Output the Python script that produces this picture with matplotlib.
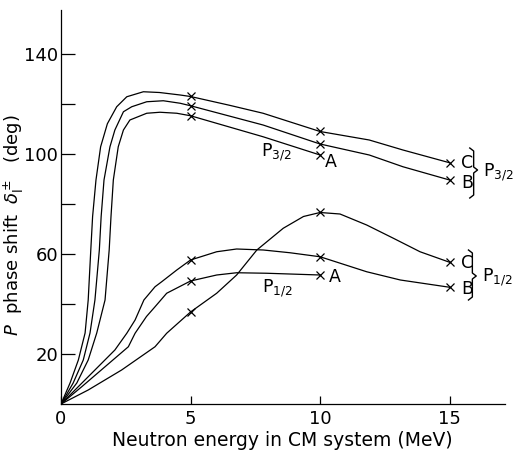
import numpy as np
import matplotlib
matplotlib.use("Agg")
import matplotlib.pyplot as plt

plt.rcParams['font.family'] = ['DejaVu Sans']
plt.rcParams['mathtext.fontset'] = 'dejavusans'

# ---- data (energy in MeV, phase shift in deg) ----
p32C_E = [0, 0.35, 0.67, 0.93, 1.05, 1.15, 1.22, 1.35, 1.53, 1.79, 2.15, 2.54, 3.18, 3.8, 4.6, 5, 6.5, 7.8, 10, 11.9, 13.2, 15]
p32C_V = [0, 8.4, 17.6, 28.4, 41.6, 61.6, 75, 89.6, 102.9, 112.1, 118.9, 122.9, 124.9, 124.6, 123.6, 123, 119.5, 116.3, 109, 105.6, 101.6, 96.5]

p32B_E = [0, 0.47, 0.86, 1.12, 1.31, 1.48, 1.55, 1.66, 1.89, 2.08, 2.41, 2.73, 3.31, 3.95, 4.6, 5, 7.8, 10, 11.9, 13.2, 15]
p32B_V = [0, 8.4, 17.6, 28.4, 41.6, 61.6, 75, 89.6, 102.9, 109.6, 116.9, 118.9, 120.9, 121.3, 120.3, 119.3, 111.6, 104, 99.6, 94.9, 89.6]

p32A_E = [0, 0.61, 1.05, 1.38, 1.70, 1.86, 1.93, 2.02, 2.21, 2.41, 2.66, 3.31, 3.82, 4.47, 5, 7.8, 10]
p32A_V = [0, 8.4, 17.6, 28.4, 41.6, 61.6, 75, 89.6, 102.9, 109.6, 113.6, 116.3, 116.7, 116.3, 115.3, 106.9, 99.6]

p12B_E = [0, 0.54, 1.31, 2.08, 2.54, 2.86, 3.2, 3.63, 3.9, 4.47, 5, 6.01, 6.78, 7.81, 8.84, 10, 11.8, 13.1, 15]
p12B_V = [0, 5.6, 13.6, 21.6, 28.3, 33.6, 41.6, 46.9, 49.0, 53.6, 57.6, 60.9, 62, 61.6, 60.5, 58.9, 52.9, 49.6, 46.7]

p12A_E = [0, 0.8, 1.7, 2.6, 2.86, 3.3, 3.63, 4.08, 5, 6.01, 6.78, 7.94, 10]
p12A_V = [0, 6.9, 14.9, 22.9, 28.3, 35.0, 38.9, 44.3, 49.2, 51.6, 52.5, 52.3, 51.6]

p12C_E = [0, 1.05, 2.34, 3.63, 4.08, 5, 6.01, 6.78, 7.56, 8.58, 9.36, 10, 10.77, 11.8, 12.83, 13.86, 15]
p12C_V = [0, 5.6, 13.6, 22.9, 28.3, 36.8, 44.3, 51.6, 61.6, 70.3, 75, 76.6, 76, 71.6, 66.3, 60.9, 56.7]

cross_E = [5, 10, 15]

y_ticks = [20, 40, 60, 80, 100, 120, 140]
y_ticklabels = ['20', '', '60', '', '100', '', '140']
x_ticks = [0, 5, 10, 15]
x_ticklabels = ['0', '5', '10', '15']

fig = plt.figure(figsize=(5.14, 4.51), dpi=100)
ax = fig.add_axes([61/514, 47/451, 444/514, 394/451])

curves = [(p32C_E, p32C_V), (p32B_E, p32B_V), (p32A_E, p32A_V),
          (p12B_E, p12B_V), (p12A_E, p12A_V), (p12C_E, p12C_V)]
for E, V in curves:
    E = np.asarray(E); V = np.asarray(V)
    ax.plot(E, V, color='black', lw=0.9, solid_joinstyle='round')
    m = np.isin(E, cross_E)
    ax.plot(E[m], V[m], ls='none', marker='x', ms=6, mew=0.9, color='black')

ax.set_xlim(0, 17.14)
ax.set_ylim(0, 157.6)
for s in ['top', 'right']:
    ax.spines[s].set_visible(False)
for s in ['left', 'bottom']:
    ax.spines[s].set_linewidth(0.9)

ax.set_yticks(y_ticks)
ax.set_yticklabels(y_ticklabels)
ax.set_xticks(x_ticks)
ax.set_xticklabels(x_ticklabels)
ax.tick_params(axis='y', direction='in', length=10, width=0.9, pad=2, labelsize=13)
ax.tick_params(axis='x', direction='in', length=6, width=0.9, pad=4, labelsize=13)

ax.set_xlabel('Neutron energy in CM system (MeV)', fontsize=13.5)
ax.xaxis.set_label_coords(0.498, -0.068)
ax.set_ylabel(r'$P$  phase shift  $\delta_{\mathrm{l}}^{\pm}$   (deg)', fontsize=13)
ax.yaxis.set_label_coords(-0.078, 0.455)

fs = 12.5
ax.text(8.32, 100.8, r'P$_{3/2}$', fontsize=fs, ha='center', va='center')
ax.text(10.42, 96.8, 'A', fontsize=fs, ha='center', va='center')
ax.text(15.68, 96.6, 'C', fontsize=fs, ha='center', va='center')
ax.text(15.68, 88.6, 'B', fontsize=fs, ha='center', va='center')
ax.text(16.3, 92.9, r'P$_{3/2}$', fontsize=fs, ha='left', va='center')

ax.text(8.33, 46.3, r'P$_{1/2}$', fontsize=fs, ha='center', va='center')
ax.text(10.58, 50.9, 'A', fontsize=fs, ha='center', va='center')
ax.text(15.68, 56.3, 'C', fontsize=fs, ha='center', va='center')
ax.text(15.68, 45.8, 'B', fontsize=fs, ha='center', va='center')
ax.text(16.25, 50.6, r'P$_{1/2}$', fontsize=fs, ha='left', va='center')

def brace(x, top, bot, mid):
    dx = 0.15
    dy = 1.2
    xs = [x - dx, x, x, x + dx, x, x, x - dx]
    ys = [top, top - dy, mid + dy, mid, mid - dy, bot + dy, bot]
    ax.plot(xs, ys, color='black', lw=1.0, clip_on=False)

brace(15.93, 102.4, 82.4, 93.6)
brace(15.88, 61.6, 41.6, 51.2)

fig.savefig('out.png', dpi=100)
